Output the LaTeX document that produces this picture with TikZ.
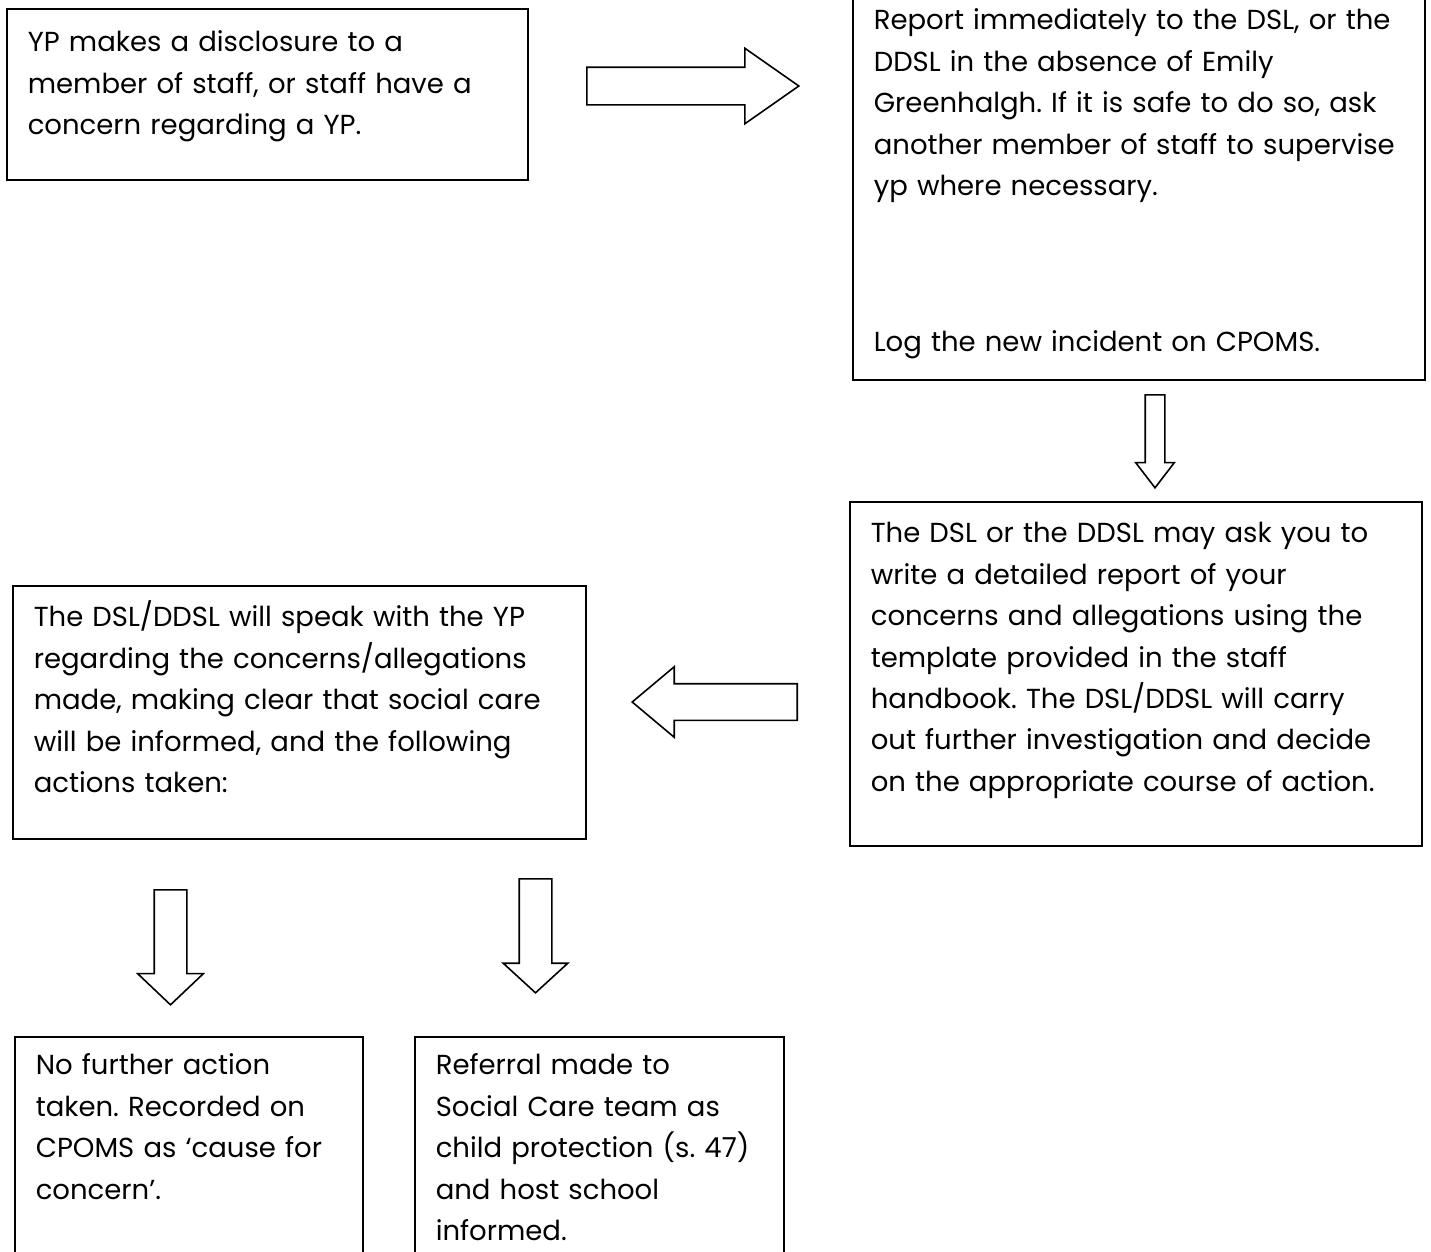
\documentclass[tikz,border=0pt]{standalone}
\usepackage{fontspec}
\setmainfont{Poppins}
\usepackage{tikz}
\usetikzlibrary{shapes.arrows}
\frenchspacing
\tikzset{
    flowbox/.style={
        rectangle,
        draw,
        line width=1.6pt, % thick black frame
        anchor=north west,
        align=left,
        inner xsep=21pt,
        inner ysep=0pt,
        text height=41pt,
        font=\fontsize{27.5}{41.4}\selectfont
    },
    blockarrow/.style={
        single arrow,
        draw,
        fill=white,
        line width=1.6pt,
        line join=miter,
        anchor=tail,
        inner xsep=0pt
    }
}

\begin{document}
\begin{tikzpicture}[x=1pt, y=-1pt]
    \useasboundingbox (0,0) rectangle (1431,1251);
    \clip (0,0) rectangle (1431,1251);
    % boxes
    \node[flowbox, text width=479pt, text height=43pt, text depth=128pt] (disclose) at (6,8)
        {YP makes a disclosure to a\\member of staff, or staff have a\\concern regarding a YP.};
    \node[flowbox, text width=530pt, text height=49pt, text depth=350pt] (report) at (852,-20)
        {Report immediately to the DSL, or the\\DDSL in the absence of Emily\\Greenhalgh. If it is safe to do so, ask\\another member of staff to supervise\\yp where necessary.\\[114.5pt]Log the new incident on CPOMS.};
    \node[flowbox, text width=530pt, text depth=303pt] (detail) at (849,501)
        {The DSL or the DDSL may ask you to\\write a detailed report of your\\concerns and allegations using the\\template provided in the staff\\handbook. The DSL/DDSL will carry\\out further investigation and decide\\on the appropriate course of action.};
    \node[flowbox, text width=531pt, text depth=212pt] (speak) at (12,585)
        {The DSL/DDSL will speak with the YP\\regarding the concerns/allegations\\made, making clear that social care\\will be informed, and the following\\actions taken:};
    \node[flowbox, text width=306pt, text height=38pt, text depth=240pt] (nfa) at (14,1036)
        {No further action\\taken. Recorded on\\CPOMS as ‘cause for\\concern’.};
    \node[flowbox, text width=327pt, text height=38pt, text depth=240pt] (referral) at (414,1036)
        {Referral made to\\Social Care team as\\child protection (s. 47)\\and host school\\informed.};
    % block arrows
    \node[blockarrow, minimum height=212pt, inner ysep=18pt, single arrow head extend=19pt,
        single arrow tip angle=70] (toreport) at (586,86) {};
    \node[blockarrow, rotate=-90, minimum height=93pt, inner ysep=9pt, single arrow head extend=9.5pt,
        single arrow tip angle=75] (todetail) at (1155,394) {};
    \node[blockarrow, rotate=180, minimum height=165pt, inner ysep=17.5pt, single arrow head extend=17pt,
        single arrow tip angle=80] (tospeak) at (798,702) {};
    \node[blockarrow, rotate=-90, minimum height=115pt, inner ysep=15.5pt, single arrow head extend=16.5pt,
        single arrow tip angle=93] (tonfa) at (170.5,889) {};
    \node[blockarrow, rotate=-90, minimum height=114pt, inner ysep=15.5pt, single arrow head extend=16pt,
        single arrow tip angle=95] (toreferral) at (535.5,878) {};
\end{tikzpicture}
\end{document}
